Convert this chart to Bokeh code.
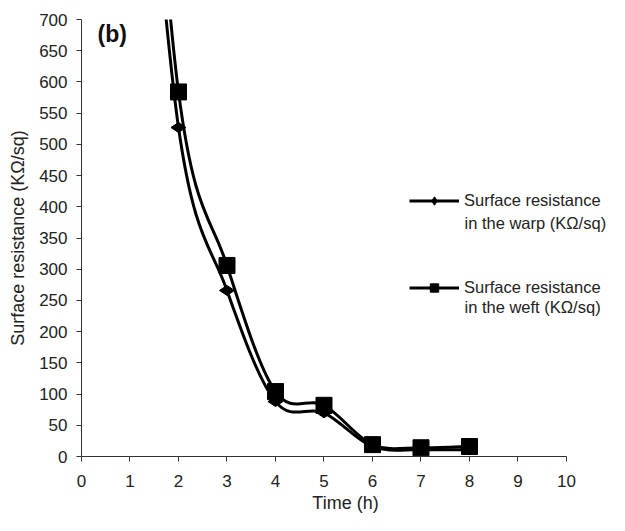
import numpy as np
from bokeh.plotting import figure
from bokeh.models import Range1d, SingleIntervalTicker, Legend, LegendItem, Label
from bokeh.embed import file_html
from bokeh.resources import INLINE

# ---- data ----
time_h = [1, 2, 3, 4, 5, 6, 7, 8]
warp = [1350, 527, 266, 88, 70, 16, 11, 11]
weft = [1500, 584, 306, 104, 82, 19, 14, 16]
x_ticks_interval = 1
y_ticks_interval = 50

FONT = "Liberation Sans"


def smooth_segments(xs, ys):
    """Bezier control points (Catmull-Rom, like Excel's smoothed line)."""
    x = np.asarray(xs, dtype=float)
    y = np.asarray(ys, dtype=float)
    xp = np.concatenate([[x[0]], x, [x[-1]]])
    yp = np.concatenate([[y[0]], y, [y[-1]]])
    mx = (xp[2:] - xp[:-2]) / 2.0
    my = (yp[2:] - yp[:-2]) / 2.0
    return dict(
        x0=x[:-1], y0=y[:-1], x1=x[1:], y1=y[1:],
        cx0=x[:-1] + mx[:-1] / 3.0, cy0=y[:-1] + my[:-1] / 3.0,
        cx1=x[1:] - mx[1:] / 3.0, cy1=y[1:] - my[1:] / 3.0,
    )


p = figure(width=609, height=515, output_backend="svg", toolbar_location=None,
           x_range=Range1d(0, 10.887), y_range=Range1d(0, 700),
           min_border_left=81, min_border_right=0, min_border_top=19, min_border_bottom=59)
p.outline_line_color = None
p.xgrid.visible = False
p.ygrid.visible = False
p.background_fill_color = "white"

for ax in (p.xaxis[0], p.yaxis[0]):
    ax.axis_line_color = "#333333"
    ax.major_tick_line_color = "#333333"
    ax.major_tick_in = 0
    ax.major_tick_out = 5
    ax.minor_tick_line_color = None
    ax.major_label_text_font = FONT
    ax.major_label_text_font_size = "17px"
    ax.major_label_text_color = "#222222"
    ax.axis_label_text_font = FONT
    ax.axis_label_text_font_size = "18px"
    ax.axis_label_text_font_style = "normal"
    ax.axis_label_text_color = "#222222"

p.xaxis[0].ticker = SingleIntervalTicker(interval=x_ticks_interval, num_minor_ticks=0)
p.yaxis[0].ticker = SingleIntervalTicker(interval=y_ticks_interval, num_minor_ticks=0)
p.xaxis[0].bounds = (0, 10)
p.xaxis[0].axis_label = "Time (h)"
p.yaxis[0].axis_label = "Surface resistance (KΩ/sq)"
p.xaxis[0].major_label_standoff = 13
p.xaxis[0].axis_label_standoff = 3
p.yaxis[0].major_label_standoff = 9
p.yaxis[0].axis_label_standoff = 8

warp_seg = smooth_segments(time_h, warp)
weft_seg = smooth_segments(time_h, weft)

r_warp_line = p.bezier(source=warp_seg, x0="x0", y0="y0", x1="x1", y1="y1",
                       cx0="cx0", cy0="cy0", cx1="cx1", cy1="cy1",
                       line_color="black", line_width=3)
r_weft_line = p.bezier(source=weft_seg, x0="x0", y0="y0", x1="x1", y1="y1",
                       cx0="cx0", cy0="cy0", cx1="cx1", cy1="cy1",
                       line_color="black", line_width=3)
r_warp_pts = p.scatter(time_h, warp, marker="diamond", size=15, angle=np.pi / 2,
                       fill_color="black", line_color="black")
r_weft_pts = p.scatter(time_h, weft, marker="square", size=16,
                       fill_color="black", line_color="black")

legend = Legend(items=[
    LegendItem(label="Surface resistance", renderers=[r_warp_line, r_warp_pts]),
    LegendItem(label="Surface resistance", renderers=[r_weft_line, r_weft_pts]),
], location=(328, 158))
legend.padding = 0
legend.margin = 0
legend.border_line_alpha = 0
legend.background_fill_alpha = 0
legend.glyph_width = 50
legend.glyph_height = 21
legend.label_height = 21
legend.label_standoff = 5
legend.spacing = 66
legend.label_text_font = FONT
legend.label_text_font_size = "16.5px"
legend.label_text_color = "#222222"
p.add_layout(legend)

p.add_layout(Label(x=7.897, y=374.8, text="in the warp (KΩ/sq)", text_baseline="middle",
                   text_font=FONT, text_font_size="16.5px", text_color="#222222"))
p.add_layout(Label(x=7.897, y=238.7, text="in the weft (KΩ/sq)", text_baseline="middle",
                   text_font=FONT, text_font_size="16.5px", text_color="#222222"))

p.add_layout(Label(x=0.33, y=697, text="(b)", text_baseline="top",
                   text_font=FONT, text_font_size="23px", text_font_style="bold",
                   text_color="#111111"))

open("out.html", "w").write(file_html(p, INLINE))
